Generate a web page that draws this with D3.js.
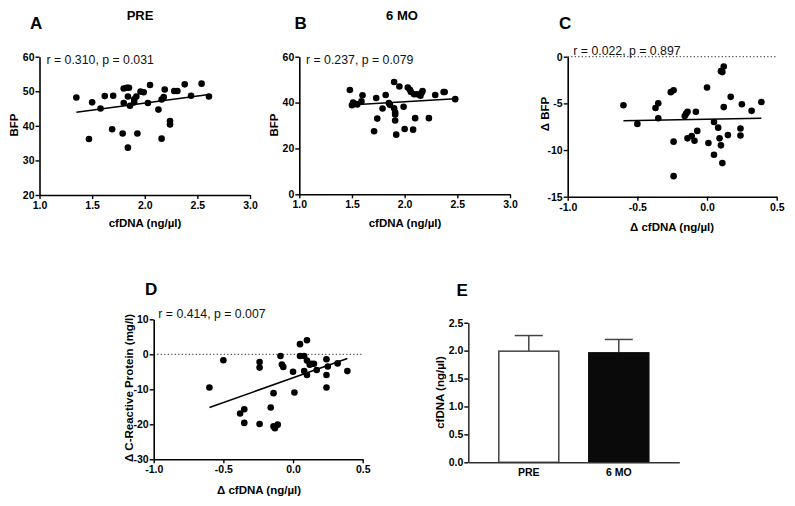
<!DOCTYPE html>
<html>
<head>
<meta charset="utf-8">
<script src="https://cdn.jsdelivr.net/npm/d3@7"></script>
<style>
  body { margin: 0; background: #fff; }
  svg { display: block; font-family: "Liberation Sans", Arial, sans-serif; }
</style>
</head>
<body>
<svg id="chart" width="795" height="506"></svg>
<script>
// ---------------- DATA ----------------
// Panel A: PRE, cfDNA (ng/µl) vs BFP
const preCfDNA = [1.35,1.47,1.50,1.58,1.62,1.69,1.70,1.79,1.80,1.80,1.83,1.85,1.84,1.84,1.86,1.90,1.90,1.92,1.93,1.96,1.99,2.03,2.05,2.13,2.16,2.16,2.18,2.19,2.24,2.24,2.28,2.31,2.38,2.44,2.54,2.61];
const preBFP    = [48.2,36.2,46.8,45.0,48.6,39.0,48.7,37.8,50.8,46.6,51.0,51.0,48.5,33.7,45.8,46.8,47.7,48.5,37.8,49.9,49.7,46.6,51.8,44.7,36.3,47.6,48.3,50.5,41.4,40.4,50.1,50.1,52.0,48.7,52.2,48.5];
const preFitX = [1.35, 2.61];
const preFitY = [43.9, 49.1];

// Panel B: 6 MO, cfDNA vs BFP
const moCfDNA = [1.48,1.50,1.51,1.53,1.55,1.59,1.60,1.71,1.73,1.74,1.79,1.82,1.85,1.86,1.90,1.90,1.91,1.91,1.91,1.92,1.95,1.99,2.00,2.03,2.05,2.06,2.08,2.09,2.10,2.12,2.15,2.16,2.17,2.23,2.29,2.37,2.38,2.48];
const moBFP    = [45.5,38.8,40.0,39.5,39.2,40.5,43.2,27.5,42.0,33.0,37.4,43.3,39.8,39.0,49.0,37.5,35.8,34.8,32.2,26.0,47.0,38.2,28.5,46.6,45.6,44.6,28.2,43.6,33.2,43.6,43.0,44.2,45.0,33.2,43.3,44.6,44.6,41.5];
const moFitX = [1.48, 2.48];
const moFitY = [38.9, 41.7];

// Panel C: Δ cfDNA vs Δ BFP
const dCfDNA_C = [-0.60,-0.50,-0.37,-0.35,-0.35,-0.26,-0.24,-0.24,-0.24,-0.16,-0.15,-0.14,-0.08,-0.14,-0.11,-0.09,-0.07,0.00,0.01,0.05,0.08,0.09,0.05,0.10,0.11,0.10,0.12,0.11,0.12,0.15,0.17,0.24,0.24,0.25,0.32,0.39];
const dBFP     = [-5.2,-7.2,-5.5,-5.0,-6.6,-3.8,-3.6,-9.1,-12.8,-6.35,-6.1,-5.9,-5.9,-8.75,-8.5,-9.0,-7.95,-3.3,-9.25,-7.0,-7.6,-8.75,-10.5,-9.5,-11.4,-1.55,-1.05,-1.65,-5.4,-8.4,-4.3,-7.7,-8.45,-5.1,-5.8,-4.85];
const cFitX = [-0.60, 0.39];
const cFitY = [-6.85, -6.6];

// Panel D: Δ cfDNA vs Δ C-Reactive Protein
const dCfDNA_D = [-0.60,-0.50,-0.38,-0.35,-0.35,-0.24,-0.24,-0.24,-0.16,-0.14,-0.14,-0.13,-0.11,-0.09,-0.08,-0.07,0.00,0.01,0.05,0.10,0.05,0.08,0.10,0.12,0.08,0.10,0.13,0.15,0.17,0.24,0.24,0.24,0.25,0.32,0.39];
const dCRP     = [-9.5,-1.7,-16.9,-15.7,-19.6,-19.9,-2.2,-3.8,-15.2,-11.1,-20.6,-21.1,-20.1,-0.5,-2.9,-3.6,-5.0,-10.9,2.9,4.0,-0.5,-0.5,-1.8,-3.0,-4.8,-5.9,-2.7,-2.7,-4.5,-1.4,-5.9,-9.5,-3.5,-2.6,-4.8];
const dFitX = [-0.60, 0.39];
const dFitY = [-15.2, -1.2];

// Panel E: cfDNA mean ± SD
const barCategories = ["PRE", "6 MO"];
const barMeans = [1.99, 1.96];
const barErrors = [0.28, 0.24];

// Tick values and labels
const ticksXcf = [1.0, 1.5, 2.0, 2.5, 3.0];
const ticksXcfLabels = ["1.0", "1.5", "2.0", "2.5", "3.0"];
const ticksYa = [20, 30, 40, 50, 60];
const ticksYaLabels = ["20", "30", "40", "50", "60"];
const ticksYb = [0, 20, 40, 60];
const ticksYbLabels = ["0", "20", "40", "60"];
const ticksXd = [-1.0, -0.5, 0.0, 0.5];
const ticksXdLabels = ["-1.0", "-0.5", "0.0", "0.5"];
const ticksYc = [-15, -10, -5, 0];
const ticksYcLabels = ["-15", "-10", "-5", "0"];
const ticksYd = [-30, -20, -10, 0, 10];
const ticksYdLabels = ["-30", "-20", "-10", "0", "10"];
const ticksYe = [0, 0.5, 1.0, 1.5, 2.0, 2.5];
const ticksYeLabels = ["0.0", "0.5", "1.0", "1.5", "2.0", "2.5"];

const statA = "r = 0.310, p = 0.031";
const statB = "r = 0.237, p = 0.079";
const statC = "r = 0.022, p = 0.897";
const statD = "r = 0.414, p = 0.007";

// ---------------- DRAWING ----------------
const svg = d3.select("#chart");
const FONT_TICK = 10.5;
const FONT_LABEL = 11.5;

function styleAxis(g, fontSize) {
  g.selectAll("path.domain").attr("stroke", "#000").attr("stroke-width", 1.6);
  g.selectAll(".tick line").attr("stroke", "#000").attr("stroke-width", 1.4);
  g.selectAll(".tick text")
    .attr("fill", "#000")
    .style("font-size", fontSize + "px")
    .style("font-weight", "bold")
    .style("font-family", '"Liberation Sans", Arial, sans-serif');
}

function scatterPanel(cfg) {
  const x = d3.scaleLinear().domain(cfg.xDomain).range(cfg.xRange);
  const y = d3.scaleLinear().domain(cfg.yDomain).range(cfg.yRange);
  const g = svg.append("g");

  // zero reference line
  if (cfg.zeroLine) {
    g.append("line")
      .attr("x1", x(cfg.xDomain[0])).attr("x2", x(cfg.xDomain[1]))
      .attr("y1", y(0)).attr("y2", y(0))
      .attr("stroke", "#333").attr("stroke-width", 1)
      .attr("stroke-dasharray", "1.3,2.2");
  }

  // axes
  const labX = new Map(cfg.xTicks.map((v, i) => [v, cfg.xTickLabels[i]]));
  const labY = new Map(cfg.yTicks.map((v, i) => [v, cfg.yTickLabels[i]]));
  const gx = g.append("g")
    .attr("transform", `translate(0,${cfg.yRange[0]})`)
    .call(d3.axisBottom(x).tickValues(cfg.xTicks).tickFormat(v => labX.get(v))
      .tickSize(4).tickSizeOuter(0).tickPadding(2.5));
  styleAxis(gx, FONT_TICK);
  const gy = g.append("g")
    .attr("transform", `translate(${cfg.xRange[0]},0)`)
    .call(d3.axisLeft(y).tickValues(cfg.yTicks).tickFormat(v => labY.get(v))
      .tickSize(4).tickSizeOuter(0).tickPadding(1));
  styleAxis(gy, FONT_TICK);

  // fit line
  g.append("line")
    .attr("x1", x(cfg.fitX[0])).attr("y1", y(cfg.fitY[0]))
    .attr("x2", x(cfg.fitX[1])).attr("y2", y(cfg.fitY[1]))
    .attr("stroke", "#000").attr("stroke-width", 1.5);

  // points
  g.selectAll("circle.pt")
    .data(cfg.xs.map((v, i) => [v, cfg.ys[i]]))
    .join("circle")
    .attr("class", "pt")
    .attr("cx", d => x(d[0])).attr("cy", d => y(d[1]))
    .attr("r", 3.3).attr("fill", "#000");

  // stat text
  g.append("text")
    .attr("x", cfg.statPos[0]).attr("y", cfg.statPos[1])
    .style("font-size", "12.3px").attr("fill", "#111")
    .text(cfg.stat);

  // axis labels
  g.append("text")
    .attr("x", cfg.xLabelPos[0]).attr("y", cfg.xLabelPos[1])
    .attr("text-anchor", "middle")
    .style("font-size", FONT_LABEL + "px").style("font-weight", "bold")
    .text(cfg.xLabel);
  g.append("text")
    .attr("transform", `translate(${cfg.yLabelPos[0]},${cfg.yLabelPos[1]}) rotate(-90)`)
    .attr("text-anchor", "middle")
    .style("font-size", FONT_LABEL + "px").style("font-weight", "bold")
    .text(cfg.yLabel);
}

// Panel letters and titles
function letter(t, xp, yp) {
  svg.append("text").attr("x", xp).attr("y", yp)
    .style("font-size", "17px").style("font-weight", "bold").text(t);
}
letter("A", 30, 28.5);
letter("B", 294.5, 28.5);
letter("C", 559, 28.5);
letter("D", 145, 294.5);
letter("E", 456.5, 296);

svg.append("text").attr("x", 140).attr("y", 19.5).attr("text-anchor", "middle")
  .style("font-size", "13px").style("font-weight", "bold").text("PRE");
svg.append("text").attr("x", 402).attr("y", 19.5).attr("text-anchor", "middle")
  .style("font-size", "13px").style("font-weight", "bold").text("6 MO");

scatterPanel({
  xs: preCfDNA, ys: preBFP, fitX: preFitX, fitY: preFitY,
  xDomain: [1, 3], yDomain: [20, 60],
  xRange: [39.5, 250], yRange: [195, 56.7],
  xTicks: ticksXcf, xTickLabels: ticksXcfLabels,
  yTicks: ticksYa, yTickLabels: ticksYaLabels,
  stat: statA, statPos: [46.5, 63.8],
  xLabel: "cfDNA (ng/µl)", xLabelPos: [145, 227],
  yLabel: "BFP", yLabelPos: [17.5, 125]
});

scatterPanel({
  xs: moCfDNA, ys: moBFP, fitX: moFitX, fitY: moFitY,
  xDomain: [1, 3], yDomain: [0, 60],
  xRange: [299.3, 510], yRange: [194.3, 56.7],
  xTicks: ticksXcf, xTickLabels: ticksXcfLabels,
  yTicks: ticksYb, yTickLabels: ticksYbLabels,
  stat: statB, statPos: [306, 63.5],
  xLabel: "cfDNA (ng/µl)", xLabelPos: [405, 227],
  yLabel: "BFP", yLabelPos: [277.5, 125]
});

scatterPanel({
  xs: dCfDNA_C, ys: dBFP, fitX: cFitX, fitY: cFitY,
  xDomain: [-1, 0.5], yDomain: [-15, 0],
  xRange: [567.7, 776.7], yRange: [196.7, 56.7],
  xTicks: ticksXd, xTickLabels: ticksXdLabels,
  yTicks: ticksYc, yTickLabels: ticksYcLabels,
  stat: statC, statPos: [573.3, 55.3], zeroLine: true,
  xLabel: "Δ cfDNA (ng/µl)", xLabelPos: [672, 231],
  yLabel: "Δ BFP", yLabelPos: [549, 114]
});

scatterPanel({
  xs: dCfDNA_D, ys: dCRP, fitX: dFitX, fitY: dFitY,
  xDomain: [-1, 0.5], yDomain: [-30, 10],
  xRange: [153.7, 362.7], yRange: [459.3, 319.3],
  xTicks: ticksXd, xTickLabels: ticksXdLabels,
  yTicks: ticksYd, yTickLabels: ticksYdLabels,
  stat: statD, statPos: [158.3, 317.8], zeroLine: true,
  xLabel: "Δ cfDNA (ng/µl)", xLabelPos: [259, 494],
  yLabel: "Δ C-Reactive Protein (mg/l)", yLabelPos: [132.5, 388]
});

// Panel E bar chart
(function barPanel() {
  const x = d3.scaleBand().domain(barCategories).range([468.3, 679.3])
    .paddingInner(1 / 3).paddingOuter(0.339);
  const y = d3.scaleLinear().domain([0, 2.5]).range([462.3, 322.7]);
  const g = svg.append("g");
  const labY = new Map(ticksYe.map((v, i) => [v, ticksYeLabels[i]]));

  const capHalf = 14;
  barCategories.forEach((c, i) => {
    const cx = x(c) + x.bandwidth() / 2;
    g.append("line").attr("x1", cx).attr("x2", cx)
      .attr("y1", y(barMeans[i])).attr("y2", y(barMeans[i] + barErrors[i]))
      .attr("stroke", "#444").attr("stroke-width", 1.5);
    g.append("line").attr("x1", cx - capHalf).attr("x2", cx + capHalf)
      .attr("y1", y(barMeans[i] + barErrors[i])).attr("y2", y(barMeans[i] + barErrors[i]))
      .attr("stroke", "#444").attr("stroke-width", 1.5);
  });

  g.selectAll("rect.bar")
    .data(barCategories.map((c, i) => ({ c, v: barMeans[i], i })))
    .join("rect")
    .attr("class", "bar")
    .attr("x", d => x(d.c)).attr("width", x.bandwidth())
    .attr("y", d => y(d.v)).attr("height", d => y(0) - y(d.v))
    .attr("fill", d => d.i === 0 ? "#fff" : "#0a0a0a")
    .attr("stroke", d => d.i === 0 ? "#444" : "#0a0a0a")
    .attr("stroke-width", 1.5);

  const gx = g.append("g").attr("transform", `translate(0,${y(0)})`)
    .call(d3.axisBottom(x).tickSize(0).tickPadding(6.5));
  styleAxis(gx, FONT_TICK);
  gx.select("path.domain").attr("stroke", "#333");
  const gy = g.append("g").attr("transform", `translate(468.3,0)`)
    .call(d3.axisLeft(y).tickValues(ticksYe).tickFormat(v => labY.get(v))
      .tickSize(4).tickSizeOuter(0).tickPadding(1));
  styleAxis(gy, FONT_TICK);
  gy.select("path.domain").attr("stroke", "#333");

  g.append("text")
    .attr("transform", `translate(444,392.5) rotate(-90)`)
    .attr("text-anchor", "middle")
    .style("font-size", FONT_LABEL + "px").style("font-weight", "bold")
    .text("cfDNA (ng/µl)");
})();
</script>
</body>
</html>
